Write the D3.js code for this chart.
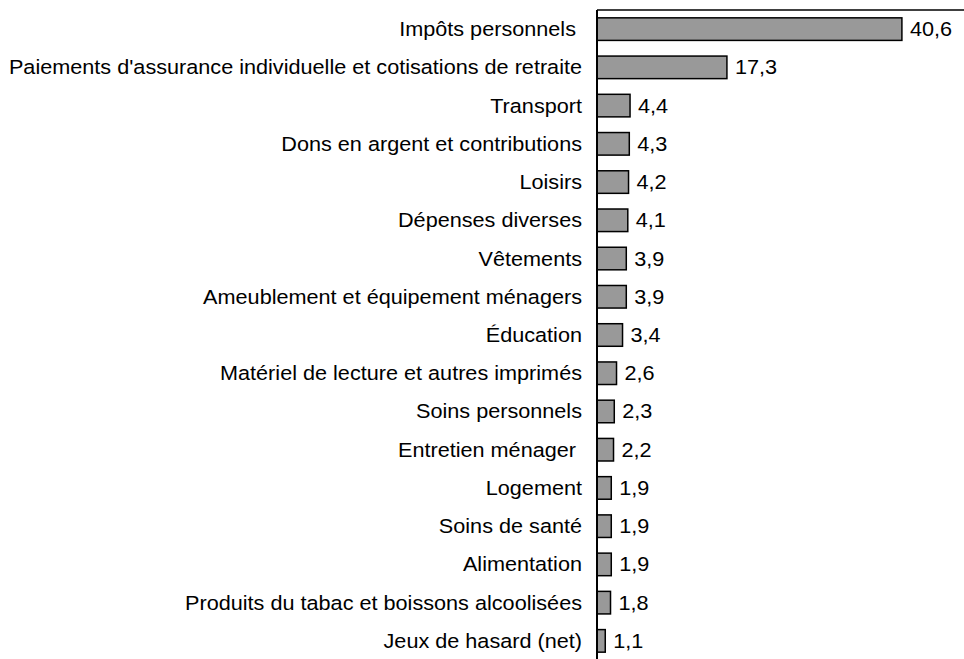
<!DOCTYPE html>
<html>
<head>
<meta charset="utf-8">
<script src="https://cdn.jsdelivr.net/npm/d3@7"></script>
<style>
body { margin: 0; background: #fff; }
text { font-family: "Liberation Sans", Arial, sans-serif; }
</style>
</head>
<body>
<svg id="barchart"></svg>
<script>
// data
var categories = [
  "Impôts personnels ",
  "Paiements d'assurance individuelle et cotisations de retraite",
  "Transport",
  "Dons en argent et contributions",
  "Loisirs",
  "Dépenses diverses",
  "Vêtements",
  "Ameublement et équipement ménagers",
  "Éducation",
  "Matériel de lecture et autres imprimés",
  "Soins personnels",
  "Entretien ménager ",
  "Logement",
  "Soins de santé",
  "Alimentation",
  "Produits du tabac et boissons alcoolisées",
  "Jeux de hasard (net)"
];
var values = [40.6, 17.3, 4.4, 4.3, 4.2, 4.1, 3.9, 3.9, 3.4, 2.6, 2.3, 2.2, 1.9, 1.9, 1.9, 1.8, 1.1];
var valueLabels = ["40,6", "17,3", "4,4", "4,3", "4,2", "4,1", "3,9", "3,9", "3,4", "2,6", "2,3", "2,2", "1,9", "1,9", "1,9", "1,8", "1,1"];

var data = categories.map(function(c, i) {
  return {cat: c, value: values[i], label: valueLabels[i]};
});

var W = 964, H = 659;
var svg = d3.select("#barchart")
  .attr("width", W)
  .attr("height", H);

var x = d3.scaleLinear()
  .domain([0, 50])
  .range([597, 972.5]);

var y = d3.scaleBand()
  .domain(categories)
  .range([10, 660])
  .paddingInner(0.41)
  .paddingOuter(0.205);

// bars
svg.selectAll("rect.bar")
  .data(data)
  .enter()
  .append("rect")
  .attr("class", "bar")
  .attr("x", x(0))
  .attr("y", function(d) { return y(d.cat); })
  .attr("width", function(d) { return x(d.value) - x(0); })
  .attr("height", y.bandwidth())
  .attr("fill", "#999999")
  .attr("stroke", "#000")
  .attr("stroke-width", 1.5);

// category labels
svg.selectAll("text.cat")
  .data(data)
  .enter()
  .append("text")
  .attr("class", "cat")
  .attr("transform", function(d) {
    return "translate(582," + (y(d.cat) + y.bandwidth() / 2) + ") scale(1.11,1)";
  })
  .attr("dy", "0.36em")
  .attr("text-anchor", "end")
  .style("white-space", "pre")
  .style("font-size", "19.5px")
  .text(function(d) { return d.cat; });

// value labels
svg.selectAll("text.val")
  .data(data)
  .enter()
  .append("text")
  .attr("class", "val")
  .attr("transform", function(d) {
    return "translate(" + (x(d.value) + 8) + "," + (y(d.cat) + y.bandwidth() / 2) + ") scale(1.11,1)";
  })
  .attr("dy", "0.36em")
  .style("font-size", "19.5px")
  .text(function(d) { return d.label; });

// axis line and top border
svg.append("line")
  .attr("x1", x(0)).attr("x2", x(0))
  .attr("y1", 10).attr("y2", H)
  .attr("stroke", "#000").attr("stroke-width", 2);
svg.append("line")
  .attr("x1", x(0)).attr("x2", W)
  .attr("y1", 10).attr("y2", 10)
  .attr("stroke", "#000").attr("stroke-width", 1.5);
</script>
</body>
</html>
